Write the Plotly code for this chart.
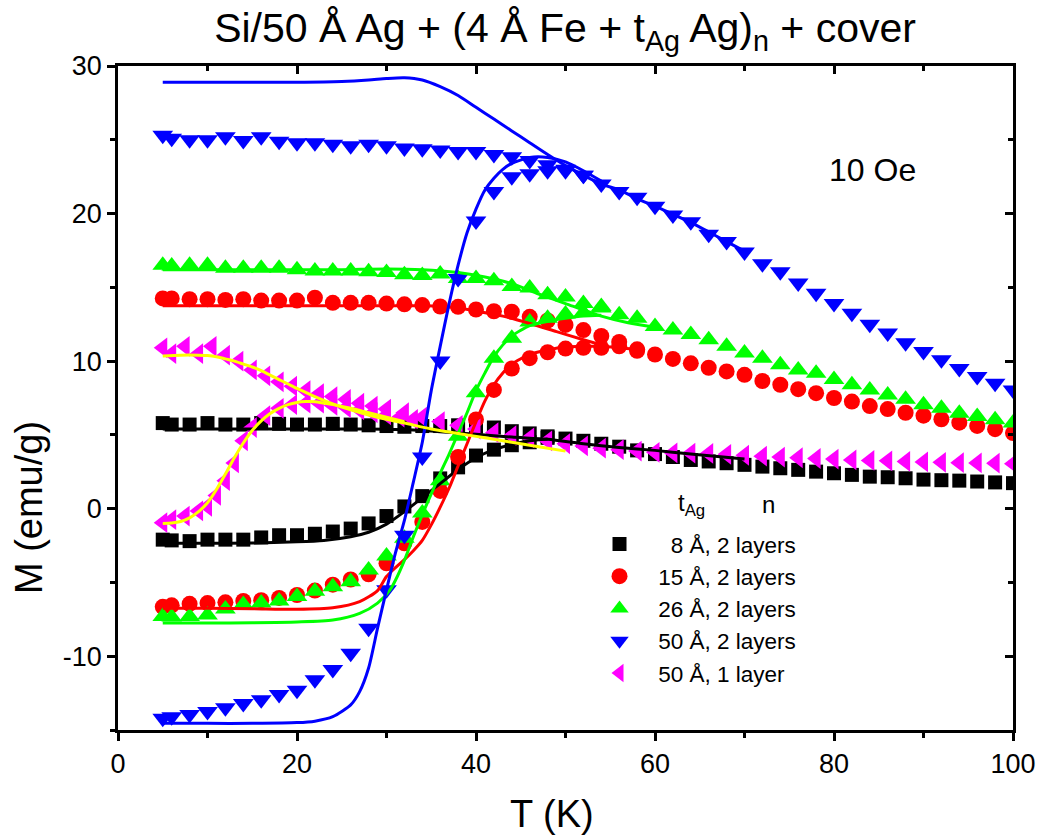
import plotly.graph_objects as go

# ---------------- data ----------------
T_grid = [5, 6] + list(range(8, 101, 2))

# 8 A, 2 layers (black squares)
blk_fc = [5.8, 5.7, 5.7, 5.8, 5.7, 5.7, 5.8, 5.75, 5.7, 5.7, 5.75, 5.7, 5.65, 5.6, 5.55, 5.6,
          5.6, 5.65, 5.55, 5.5, 5.25, 5.1, 4.9, 4.75, 4.6, 4.4, 4.2, 3.95, 3.7, 3.5, 3.3, 3.2,
          3.08, 2.97, 2.85, 2.74, 2.63, 2.51, 2.4, 2.29, 2.17, 2.13, 2.06, 1.97, 1.93, 1.9,
          1.84, 1.78, 1.73]
blk_zfc_T = [5, 6, 8, 10, 12, 14, 16, 18, 20, 22, 24, 26, 28, 30, 32, 34, 36, 38, 40, 42, 44, 46, 48]
blk_zfc = [-2.1, -2.15, -2.2, -2.1, -2.1, -2.1, -1.95, -1.8, -1.8, -1.7, -1.55, -1.35, -1.0,
           -0.5, 0.15, 0.85, 2.05, 2.8, 3.6, 4.0, 4.3, 4.5, 4.8]

# 15 A, 2 layers (red circles)
red_fc = [14.25, 14.25, 14.2, 14.2, 14.15, 14.2, 14.1, 14.1, 14.1, 14.3, 13.95, 13.95, 13.95,
          13.9, 13.85, 13.8, 13.7, 13.68, 13.5, 13.38, 13.35, 13.0, 12.75, 12.45, 12.1, 11.7,
          11.3, 10.8, 10.45, 10.15, 9.85, 9.55, 9.3, 9.07, 8.65, 8.4, 8.1, 7.83, 7.5, 7.26,
          6.95, 6.75, 6.5, 6.3, 6.06, 5.83, 5.61, 5.39, 5.12]
red_zfc_T = [5, 6, 8, 10, 12, 14, 16, 18, 20, 22, 24, 26, 28, 30, 32, 34, 36, 38, 40, 42, 44,
             46, 48, 50, 52, 54, 56, 58]
red_zfc = [-6.65, -6.55, -6.45, -6.4, -6.35, -6.25, -6.2, -6.05, -5.85, -5.55, -5.15, -4.8,
           -4.45, -3.7, -2.35, -0.9, 1.2, 3.5, 6.05, 8.05, 9.5, 10.2, 10.6, 10.85, 10.9, 10.9,
           11.0, 10.7]

# 26 A, 2 layers (green up-triangles)
grn_fc = [16.5, 16.45, 16.5, 16.5, 16.3, 16.3, 16.3, 16.3, 16.2, 16.1, 16.1, 16.1, 16.05, 16.0,
          15.85, 15.8, 15.9, 15.6, 15.6, 15.45, 15.05, 14.95, 14.5, 14.35, 13.9, 13.7, 13.15,
          12.9, 12.35, 12.1, 11.8, 11.45, 11.0, 10.55, 10.2, 9.75, 9.4, 9.18, 8.75, 8.4, 8.05,
          7.7, 7.42, 7.05, 6.8, 6.47, 6.24, 6.02, 5.8]
grn_zfc_T = [5, 6, 8, 10, 12, 14, 16, 18, 20, 22, 24, 26, 28, 30, 32, 34, 36, 38, 40, 42, 44,
             46, 48, 50, 52, 54]
grn_zfc = [-7.3, -7.35, -7.3, -7.2, -6.8, -6.5, -6.4, -6.25, -5.95, -5.6, -5.3, -4.95, -4.15,
           -3.2, -2.0, -0.3, 1.9, 4.9, 7.85, 10.2, 11.55, 12.65, 12.9, 13.2, 13.3, 13.6]

# 50 A, 2 layers (blue down-triangles)
blu_fc = [25.3, 25.1, 25.0, 25.0, 25.2, 24.95, 25.2, 24.9, 24.8, 24.8, 24.7, 24.6, 24.7, 24.6,
          24.45, 24.4, 24.3, 24.2, 24.2, 24.0, 23.85, 23.6, 23.3, 23.0, 22.6, 22.0, 21.5, 21.1,
          20.5, 19.9, 19.45, 18.6, 18.1, 17.4, 16.6, 16.05, 15.3, 14.6, 13.9, 13.25, 12.5,
          11.9, 11.25, 10.65, 10.1, 9.5, 8.95, 8.5, 8.05]
blu_zfc_T = [5, 6, 8, 10, 12, 14, 16, 18, 20, 22, 24, 26, 28, 30, 32, 34, 36, 38, 40, 42, 44,
             46, 48, 50, 52]
blu_zfc = [-14.2, -14.1, -13.95, -13.75, -13.5, -13.2, -12.95, -12.6, -12.3, -11.6, -10.9,
           -9.8, -8.1, -5.5, -1.8, 3.5, 10.0, 15.6, 19.5, 21.5, 22.5, 22.7, 22.9, 22.9, 22.6]

# 50 A, 1 layer (magenta left-triangles)
mag_fc_T = [5, 6, 7.5, 9, 10.5, 12, 13.5, 15, 16.5, 18, 19.5, 21, 22.5, 24, 25.5, 27, 28.5,
            30] + list(range(32, 101, 2))
mag_fc = [10.9, 10.5, 11.0, 10.5, 11.0, 10.4, 10.0, 9.4, 9.0, 8.6, 8.3, 8.0, 7.8, 7.6, 7.4,
          7.15, 6.95, 6.75, 6.5, 6.2, 5.9, 5.65, 5.4, 5.15, 4.95, 4.8, 4.6, 4.4, 4.25, 4.1,
          4.0, 3.9, 3.82, 3.78, 3.76, 3.74, 3.68, 3.62, 3.56, 3.5, 3.45, 3.4, 3.36, 3.3, 3.27,
          3.24, 3.2, 3.17, 3.14, 3.12, 3.1, 3.08, 3.05]
mag_zfc_T = [5, 6, 7.5, 9, 10, 11, 12, 13, 14, 15, 16.5, 18, 19.5, 21, 22.5, 24, 25.5, 27,
             28.5, 30, 31.5, 33]
mag_zfc = [-0.95, -0.75, -0.5, -0.15, 0.15, 0.9, 1.9, 3.1, 4.6, 5.5, 6.3, 6.8, 7.05, 7.15,
           7.15, 7.0, 6.85, 6.7, 6.5, 6.35, 6.2, 6.05]

# ---------------- fit curves ----------------
blk_fit_fc_T = [5, 10, 15, 20, 25, 30, 33, 36, 40, 44, 48, 52, 56, 60, 64, 67, 70]
blk_fit_fc = [5.4, 5.4, 5.4, 5.4, 5.4, 5.38, 5.33, 5.22, 5.05, 4.85, 4.7, 4.4, 4.15, 3.95,
              3.7, 3.53, 3.37]
blk_fit_zfc_T = [5, 10, 15, 20, 23, 26, 28, 30, 32, 34, 36, 38, 40, 42, 44, 46, 48]
blk_fit_zfc = [-2.35, -2.35, -2.33, -2.25, -2.15, -1.9, -1.6, -1.05, -0.2, 0.75, 1.7, 2.65,
               3.45, 4.0, 4.35, 4.6, 4.72]

red_fit_fc_T = [5, 10, 15, 20, 25, 30, 34, 36, 38, 40, 43, 46, 49, 52, 54]
red_fit_fc = [13.75, 13.75, 13.75, 13.75, 13.75, 13.75, 13.75, 13.72, 13.6, 13.4, 13.05,
              12.55, 12.0, 11.45, 11.1]
red_fit_zfc_T = [5, 10, 15, 20, 24, 27, 29, 30, 31, 32, 33, 34, 35, 36, 37, 38, 39, 40, 41,
                 42, 43, 44, 46, 48, 50, 52, 54, 56, 58]
red_fit_zfc = [-6.75, -6.75, -6.78, -6.82, -6.72, -6.3, -5.55, -4.6, -4.0, -3.45, -2.85,
               -2.15, -1.1, 0.1, 1.4, 2.9, 4.4, 5.9, 7.3, 8.4, 9.2, 9.8, 10.45, 10.75, 10.95,
               11.0, 11.0, 10.9, 10.78]

grn_fit_fc_T = [5, 10, 15, 20, 25, 30, 34, 38, 41, 44, 47, 50, 54, 57, 60]
grn_fit_fc = [16.2, 16.2, 16.2, 16.2, 16.2, 16.25, 16.2, 16.0, 15.7, 15.25, 14.55, 13.9,
              13.05, 12.6, 12.3]
grn_fit_zfc_T = [5, 10, 15, 20, 24, 27, 29, 30.4, 31, 32, 33, 34, 35, 36, 37, 38, 39, 40, 41,
                 42, 43, 44, 46, 48, 50, 52, 54]
grn_fit_zfc = [-7.75, -7.75, -7.73, -7.68, -7.55, -7.1, -6.4, -5.5, -4.85, -3.5, -1.9, -0.4,
               1.0, 2.4, 3.7, 5.1, 6.5, 8.0, 9.2, 10.3, 11.1, 11.7, 12.4, 12.7, 12.9, 13.05, 13.1]

blu_fit_fc_T = [5, 10, 15, 20, 25, 28, 30, 32, 34, 36, 38, 40, 42, 44, 46, 48, 50, 52, 54,
                56, 58, 60, 62, 64, 66, 68, 70]
blu_fit_fc = [28.9, 28.9, 28.9, 28.9, 28.95, 29.05, 29.15, 29.2, 29.05, 28.6, 28.0, 27.2,
              26.4, 25.6, 24.8, 24.0, 23.25, 22.6, 22.0, 21.6, 21.0, 20.5, 19.95, 19.4,
              18.75, 18.1, 17.45]
blu_fit_zfc_T = [5, 10, 15, 20, 22, 24, 26, 27, 28, 29, 30, 31, 32, 33, 34, 35, 36, 37, 38,
                 39, 40, 41, 42, 43, 44, 46, 48, 50, 52, 54]
blu_fit_zfc = [-14.55, -14.55, -14.55, -14.5, -14.4, -14.1, -13.3, -12.4, -10.8, -8.1, -5.5,
               -3.0, -0.8, 1.8, 4.5, 8.0, 11.0, 13.9, 16.5, 18.7, 20.3, 21.6, 22.4, 23.0,
               23.4, 23.8, 23.8, 23.5, 22.9, 22.2]

yel_fit_fc_T = [5, 7, 9, 10, 11, 12, 13, 14, 15, 16, 17, 18, 19, 20, 22, 24, 26, 28, 30, 32,
                35, 38, 41, 44, 47, 50]
yel_fit_fc = [10.35, 10.4, 10.4, 10.38, 10.3, 10.15, 10.0, 9.8, 9.6, 9.35, 9.05, 8.75, 8.45,
              8.15, 7.6, 7.1, 6.7, 6.35, 6.05, 5.8, 5.4, 5.1, 4.8, 4.5, 4.2, 3.9]
yel_fit_zfc_T = [5, 6, 7, 8, 9, 10, 11, 12, 13, 14, 15, 16, 17, 18, 19, 20, 21, 22, 24, 26,
                 28, 30, 32]
yel_fit_zfc = [-1.0, -0.97, -0.87, -0.62, -0.2, 0.4, 1.3, 2.35, 3.45, 4.45, 5.3, 5.95, 6.45,
               6.8, 7.05, 7.2, 7.26, 7.25, 7.05, 6.8, 6.5, 6.2, 5.9]

legend_names = ["&nbsp;&nbsp;&nbsp;&nbsp;&nbsp;8 Å, 2 layers", "&nbsp;&nbsp;&nbsp;15 Å, 2 layers",
                "&nbsp;&nbsp;&nbsp;26 Å, 2 layers", "&nbsp;&nbsp;&nbsp;50 Å, 2 layers",
                "&nbsp;&nbsp;&nbsp;50 Å, 1 layer"]

x_ticks = [0, 20, 40, 60, 80, 100]
y_ticks = [-10, 0, 10, 20, 30]

FONT = "Arial, Liberation Sans, sans-serif"

fig = go.Figure()

series = [
    (T_grid, blk_fc, blk_zfc_T, blk_zfc, "square", "#000000", 14),
    (T_grid, red_fc, red_zfc_T, red_zfc, "circle", "#FF0000", 16),
    (T_grid, grn_fc, grn_zfc_T, grn_zfc, "triangle-up", "#00FF00", 18),
    (T_grid, blu_fc, blu_zfc_T, blu_zfc, "triangle-down", "#0000FF", 18),
    (mag_fc_T, mag_fc, mag_zfc_T, mag_zfc, "triangle-left", "#FF00FF", 18),
]
for i, (tf, mf, tz, mz, sym, col, sz) in enumerate(series):
    fig.add_trace(go.Scatter(x=tf, y=mf, mode="markers", name=legend_names[i],
                             marker=dict(symbol=sym, color=col, size=sz, line=dict(width=0)),
                             legendgroup=str(i), showlegend=True))
    fig.add_trace(go.Scatter(x=tz, y=mz, mode="markers", name=legend_names[i],
                             marker=dict(symbol=sym, color=col, size=sz, line=dict(width=0)),
                             legendgroup=str(i), showlegend=False))

fits = [
    (blk_fit_fc_T, blk_fit_fc, "#000000"), (blk_fit_zfc_T, blk_fit_zfc, "#000000"),
    (red_fit_fc_T, red_fit_fc, "#FF0000"), (red_fit_zfc_T, red_fit_zfc, "#FF0000"),
    (grn_fit_fc_T, grn_fit_fc, "#00FF00"), (grn_fit_zfc_T, grn_fit_zfc, "#00FF00"),
    (blu_fit_fc_T, blu_fit_fc, "#0000FF"), (blu_fit_zfc_T, blu_fit_zfc, "#0000FF"),
    (yel_fit_fc_T, yel_fit_fc, "#FFFF00"), (yel_fit_zfc_T, yel_fit_zfc, "#FFFF00"),
]
for tx, my, col in fits:
    fig.add_trace(go.Scatter(x=tx, y=my, mode="lines",
                             line=dict(color=col, width=3, shape="spline", smoothing=0.7),
                             showlegend=False, hoverinfo="skip"))

# invisible trace for the mirrored axes
fig.add_trace(go.Scatter(x=[0], y=[0], xaxis="x2", yaxis="y2", mode="markers",
                         marker=dict(opacity=0), showlegend=False, hoverinfo="skip"))

axis_common = dict(showline=True, linecolor="black", linewidth=2.5, showgrid=False,
                   zeroline=False, tickcolor="black", tickwidth=2.5, automargin=False)

fig.update_layout(
    width=1040, height=837,
    margin=dict(l=118, r=27, t=66, b=107),
    paper_bgcolor="white", plot_bgcolor="white",
    font=dict(family=FONT, color="black"),
    title=dict(text="Si/50 Å Ag + (4 Å Fe + t<sub>Ag</sub> Ag)<sub>n</sub> + cover",
               x=0.5433, xanchor="center", y=0.967, yanchor="middle",
               font=dict(size=41, family=FONT)),
    xaxis=dict(range=[0, 100], tickvals=x_ticks, ticktext=[str(v) for v in x_ticks],
               ticks="outside", ticklen=8,
               minor=dict(ticks="outside", ticklen=5, dtick=10, tick0=0, tickcolor="black",
                          tickwidth=2.5),
               tickfont=dict(size=27), **axis_common),
    yaxis=dict(range=[-15, 30], tickvals=y_ticks, ticktext=[str(v) for v in y_ticks],
               ticks="outside", ticklen=8,
               minor=dict(ticks="outside", ticklen=5, dtick=5, tick0=0, tickcolor="black",
                          tickwidth=2.5),
               tickfont=dict(size=27), **axis_common),
    xaxis2=dict(range=[0, 100], overlaying="x", side="top", anchor="y", tickvals=x_ticks,
                ticks="inside", ticklen=8, showticklabels=False,
                minor=dict(ticks="inside", ticklen=5, dtick=10, tick0=0, tickcolor="black",
                           tickwidth=2.5),
                **axis_common),
    yaxis2=dict(range=[-15, 30], overlaying="y", side="right", anchor="x", tickvals=y_ticks,
                ticks="inside", ticklen=8, showticklabels=False,
                minor=dict(ticks="inside", ticklen=5, dtick=5, tick0=0, tickcolor="black",
                           tickwidth=2.5),
                **axis_common),
    legend=dict(x=0.538, y=0.312, xanchor="left", yanchor="top", bgcolor="rgba(0,0,0,0)",
                font=dict(size=22.5, family=FONT), tracegroupgap=0, itemsizing="trace"),
    annotations=[
        dict(text="T (K)", x=0.485, y=-0.126, xref="paper", yref="paper", showarrow=False,
             font=dict(size=38, family=FONT), xanchor="center", yanchor="middle"),
        dict(text="M (emu/g)", x=-0.1, y=0.335, xref="paper", yref="paper", showarrow=False,
             textangle=-90, font=dict(size=38, family=FONT), xanchor="center",
             yanchor="middle"),
        dict(text="10 Oe", x=0.8425, y=0.843, xref="paper", yref="paper", showarrow=False,
             font=dict(size=32, family=FONT), xanchor="center", yanchor="middle"),
        dict(text="t<sub>Ag</sub>", x=0.641, y=0.339, xref="paper", yref="paper",
             showarrow=False, font=dict(size=24, family=FONT), xanchor="center",
             yanchor="middle"),
        dict(text="n", x=0.7265, y=0.339, xref="paper", yref="paper",
             showarrow=False, font=dict(size=24, family=FONT), xanchor="center",
             yanchor="middle"),
    ],
)

fig.write_html("out.html")
